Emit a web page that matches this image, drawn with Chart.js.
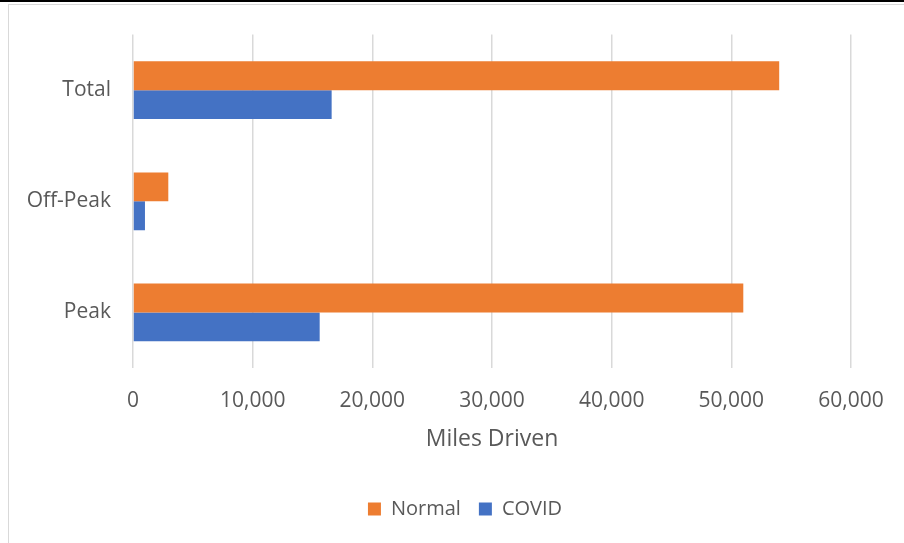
<!DOCTYPE html>
<html>
<head>
<meta charset="utf-8">
<script src="https://cdn.jsdelivr.net/npm/chart.js@4/dist/chart.umd.min.js"></script>
<style>
  html, body { margin: 0; padding: 0; background: #ffffff; }
  #wrap { position: relative; width: 904px; height: 543px; overflow: hidden; background: #fff; }
  #topstrip { position: absolute; left: 0; top: 0; width: 904px; height: 2px; background: #000; }
  #frame { position: absolute; left: 8px; top: 4px; width: 1000px; height: 1000px; border: 1px solid #d9d9d9; box-sizing: border-box; }
  #c { position: absolute; left: 0; top: 0; }
</style>
</head>
<body>
<div id="wrap">
  <div id="topstrip"></div>
  <div id="frame"></div>
  <canvas id="c" width="904" height="543"></canvas>
</div>
<script>
const categories = ['Total', 'Off-Peak', 'Peak'];
const normalValues = [54000, 2950, 51000];
const covidValues = [16600, 1000, 15600];
const seriesNames = ['Normal', 'COVID'];
const axisTitle = 'Miles Driven';

const textColor = '#595959';
const fontFamily = '"Open Sans", sans-serif';

new Chart(document.getElementById('c'), {
  type: 'bar',
  data: {
    labels: categories,
    datasets: [
      { label: seriesNames[0], data: normalValues, backgroundColor: '#ED7D31', borderWidth: 0 },
      { label: seriesNames[1], data: covidValues, backgroundColor: '#4472C4', borderWidth: 0 }
    ]
  },
  options: {
    indexAxis: 'y',
    responsive: false,
    animation: false,
    devicePixelRatio: 1,
    layout: { padding: { left: 26, right: 0, top: 33, bottom: 14 } },
    datasets: { bar: { barPercentage: 1.0, categoryPercentage: 0.52 } },
    scales: {
      x: {
        min: 0, max: 60000,
        ticks: {
          stepSize: 10000,
          color: textColor,
          font: { family: fontFamily, size: 21 },
          padding: 20,
          callback: (v) => v.toLocaleString('en-US')
        },
        grid: { color: '#d9d9d9', lineWidth: 1.5, drawTicks: false },
        border: { display: false },
        title: {
          display: true, text: axisTitle, color: textColor,
          font: { family: fontFamily, size: 23 },
          padding: { top: 4, bottom: 28 }
        },
        afterFit: (s) => { s.height = 113; }
      },
      y: {
        ticks: {
          color: textColor,
          font: { family: fontFamily, size: 21 },
          padding: 22
        },
        grid: { display: false, drawTicks: false },
        border: { display: false },
        afterFit: (s) => { s.width = 107; }
      },
      yRightSpace: {
        type: 'linear',
        axis: 'y',
        position: 'right',
        display: true,
        ticks: { display: false },
        grid: { display: false, drawTicks: false },
        border: { display: false },
        afterFit: (s) => { s.width = 53; }
      }
    },
    plugins: {
      legend: {
        position: 'bottom',
        labels: {
          color: textColor,
          font: { family: fontFamily, size: 20 },
          boxWidth: 13, boxHeight: 13,
          padding: 18
        }
      },
      tooltip: { enabled: false },
      title: { display: false }
    }
  }
});
</script>
</body>
</html>
